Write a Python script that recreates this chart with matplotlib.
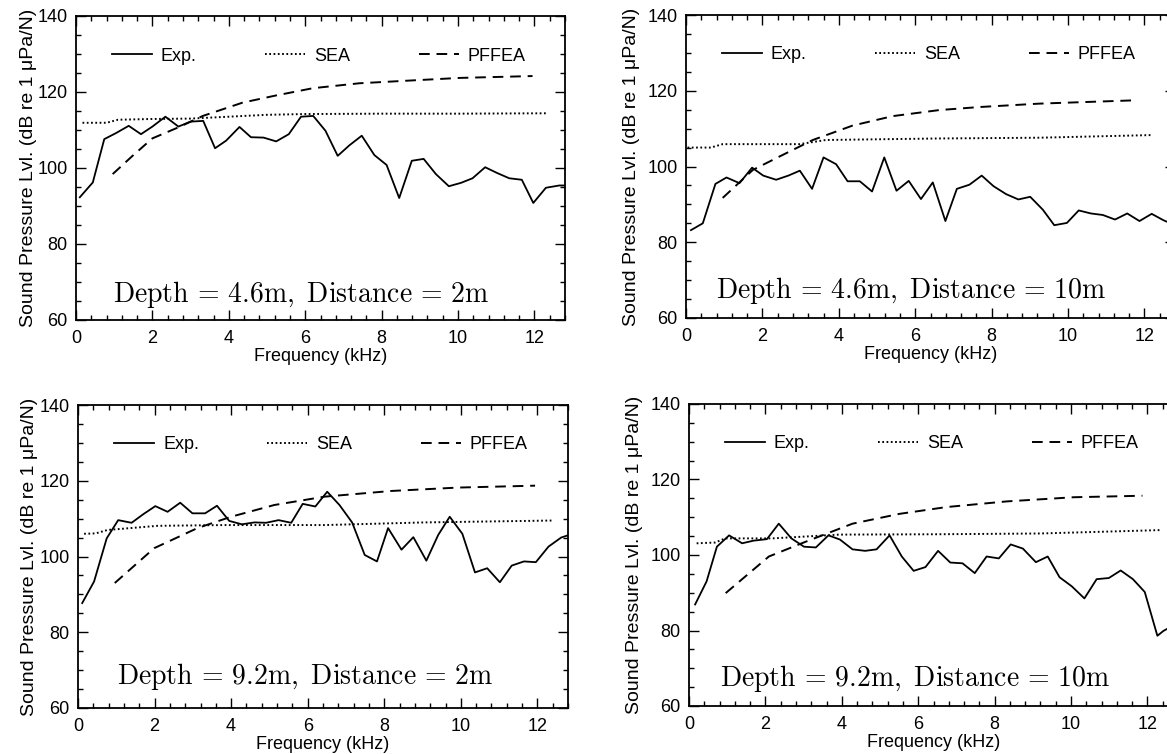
import matplotlib.pyplot as plt
from matplotlib.ticker import MultipleLocator

plt.rcParams['font.family'] = ['Liberation Sans', 'DejaVu Sans']
plt.rcParams['mathtext.fontset'] = 'cm'

# --- Depth 4.6 m, Distance 2 m ---
exp_f_a = [0.10, 0.44, 0.74, 1.05, 1.38, 1.70, 2.00, 2.34, 2.68, 3.00, 3.33, 3.64, 3.93,
           4.28, 4.58, 4.91, 5.24, 5.57, 5.89, 6.21, 6.53, 6.85, 7.16, 7.48, 7.81, 8.13,
           8.46, 8.79, 9.10, 9.42, 9.76, 10.08, 10.38, 10.71, 11.02, 11.34, 11.67, 11.97,
           12.30, 12.65, 12.80]
exp_a = [92.3, 96.2, 107.6, 109.2, 111.1, 108.9, 110.9, 113.5, 110.9, 112.2, 112.4, 105.2, 107.2,
         110.8, 108.1, 108.0, 107.0, 108.9, 113.5, 113.7, 109.8, 103.2, 106.0, 108.5, 103.4, 100.8,
         92.1, 101.9, 102.4, 98.4, 95.2, 96.1, 97.3, 100.2, 98.7, 97.3, 96.9, 90.8,
         94.8, 95.4, 95.4]
sea_f_a = [0.17, 0.80, 1.10, 2.0, 3.0, 4.0, 5.0, 6.0, 8.0, 10.0, 12.35]
sea_a = [111.9, 111.9, 112.7, 112.9, 113.0, 113.5, 114.0, 114.2, 114.3, 114.3, 114.4]
pf_f_a = [0.96, 1.48, 2.00, 2.68, 3.32, 4.36, 5.24, 6.20, 7.42, 8.90, 10.03, 11.95]
pf_a = [98.4, 103.2, 107.8, 110.7, 113.7, 117.2, 119.1, 121.0, 122.3, 123.1, 123.7, 124.2]

# --- Depth 4.6 m, Distance 10 m ---
exp_f_b = [0.13, 0.44, 0.77, 1.06, 1.40, 1.73, 2.02, 2.36, 2.68, 2.98, 3.30, 3.60, 3.93,
           4.23, 4.55, 4.87, 5.19, 5.51, 5.83, 6.15, 6.46, 6.79, 7.09, 7.42, 7.74, 8.05,
           8.38, 8.70, 9.01, 9.34, 9.64, 9.97, 10.28, 10.60, 10.91, 11.23, 11.55, 11.87,
           12.19, 12.50, 12.80]
exp_b = [83.2, 85.0, 95.4, 97.1, 95.6, 99.7, 97.6, 96.5, 97.6, 98.9, 94.1, 102.4, 100.6,
         96.1, 96.1, 93.4, 102.4, 93.6, 96.2, 91.4, 95.8, 85.6, 94.1, 95.2, 97.6, 94.8,
         92.7, 91.3, 92.0, 88.6, 84.5, 85.1, 88.4, 87.6, 87.2, 86.0, 87.6, 85.6,
         87.5, 85.8, 84.5]
sea_f_b = [0.04, 0.65, 0.96, 2.97, 3.66, 6.63, 9.25, 12.20]
sea_b = [105.0, 105.0, 105.9, 105.9, 107.0, 107.4, 107.6, 108.3]
pf_f_b = [0.96, 1.75, 2.44, 3.32, 4.36, 5.41, 6.63, 7.68, 9.25, 11.82]
pf_b = [91.7, 99.1, 102.6, 107.0, 110.8, 113.3, 114.9, 115.7, 116.6, 117.5]

# --- Depth 9.2 m, Distance 2 m ---
exp_f_c = [0.11, 0.42, 0.75, 1.05, 1.40, 1.71, 2.02, 2.34, 2.67, 2.99, 3.32, 3.63, 3.95,
           4.28, 4.61, 4.91, 5.24, 5.57, 5.87, 6.20, 6.51, 6.83, 7.16, 7.49, 7.81, 8.10,
           8.45, 8.76, 9.10, 9.41, 9.71, 10.04, 10.37, 10.69, 11.02, 11.33, 11.65, 11.96,
           12.29, 12.62, 12.80]
exp_c = [87.7, 93.4, 104.8, 109.6, 108.9, 111.2, 113.3, 111.8, 114.2, 111.4, 111.4, 113.4, 109.4,
         108.5, 109.0, 108.9, 109.6, 108.9, 113.9, 113.2, 117.1, 113.6, 109.0, 100.4, 98.7, 107.5,
         101.8, 105.1, 98.9, 105.7, 110.5, 106.0, 95.8, 96.9, 93.2, 97.6, 98.7, 98.5,
         102.6, 105.0, 105.6]
sea_f_c = [0.16, 0.46, 0.77, 2.08, 3.82, 6.44, 9.06, 12.42]
sea_c = [106.0, 106.1, 107.0, 108.1, 108.3, 108.3, 109.0, 109.5]
pf_f_c = [0.96, 1.99, 3.12, 4.00, 5.13, 6.44, 8.18, 9.93, 11.94]
pf_c = [93.0, 102.2, 107.5, 110.5, 113.6, 115.8, 117.3, 118.2, 118.7]

# --- Depth 9.2 m, Distance 10 m ---
exp_f_d = [0.16, 0.46, 0.73, 1.05, 1.39, 1.69, 2.04, 2.35, 2.68, 3.01, 3.32, 3.65, 3.95,
           4.28, 4.61, 4.91, 5.25, 5.57, 5.88, 6.19, 6.52, 6.84, 7.16, 7.48, 7.79, 8.11,
           8.42, 8.74, 9.08, 9.39, 9.70, 10.02, 10.35, 10.67, 10.99, 11.30, 11.62, 11.93,
           12.26, 12.42, 12.80]
exp_d = [86.9, 93.0, 102.2, 105.2, 103.1, 103.8, 104.2, 108.3, 104.4, 102.2, 102.0, 105.2, 104.1,
         101.5, 101.1, 101.5, 105.2, 99.6, 95.8, 96.8, 101.1, 98.0, 97.8, 95.2, 99.6, 99.1,
         102.8, 101.7, 98.1, 99.6, 94.1, 91.7, 88.5, 93.6, 93.9, 95.9, 93.6, 90.2,
         78.6, 79.9, 82.0]
sea_f_d = [0.20, 0.68, 0.95, 2.18, 3.93, 6.56, 9.19, 12.35]
sea_d = [103.1, 103.3, 104.4, 104.4, 105.4, 105.5, 105.7, 106.6]
pf_f_d = [0.96, 2.09, 3.05, 4.28, 5.51, 6.74, 8.32, 10.07, 11.87]
pf_d = [89.9, 99.6, 103.5, 108.3, 110.9, 112.7, 114.2, 115.3, 115.7]

titles = [r'$\mathrm{Depth}\,=\,4.6\mathrm{m},\ \mathrm{Distance}\,=\,2\mathrm{m}$',
          r'$\mathrm{Depth}\,=\,4.6\mathrm{m},\ \mathrm{Distance}\,=\,10\mathrm{m}$',
          r'$\mathrm{Depth}\,=\,9.2\mathrm{m},\ \mathrm{Distance}\,=\,2\mathrm{m}$',
          r'$\mathrm{Depth}\,=\,9.2\mathrm{m},\ \mathrm{Distance}\,=\,10\mathrm{m}$']

panels = [
    (exp_f_a, exp_a, sea_f_a, sea_a, pf_f_a, pf_a),
    (exp_f_b, exp_b, sea_f_b, sea_b, pf_f_b, pf_b),
    (exp_f_c, exp_c, sea_f_c, sea_c, pf_f_c, pf_c),
    (exp_f_d, exp_d, sea_f_d, sea_d, pf_f_d, pf_d),
]

W, H = 1167, 754
# axes boxes in pixels: left, top, right, bottom
boxes = [(76, 16, 565, 320), (686, 15, 1175, 318),
         (78, 405, 568, 708), (689, 404, 1178, 706)]
text_pos = [(0.076, 0.059), (0.061, 0.066), (0.080, 0.078), (0.063, 0.066)]
ylabel_x = [-0.080, -0.094, -0.082, -0.094]

fig = plt.figure(figsize=(W / 100, H / 100), dpi=100)
fig.patch.set_facecolor('white')

for i, (ef, ev, sf, sv, pf, pv) in enumerate(panels):
    l, t, r, b = boxes[i]
    ax = fig.add_axes([l / W, 1 - b / H, (r - l) / W, (b - t) / H])
    ax.plot(ef, ev, color='black', lw=1.3, label='Exp.')
    ax.plot(sf, sv, color='black', lw=1.4, linestyle=(0, (0.9, 1.3)), label='SEA')
    ax.plot(pf, pv, color='black', lw=1.4, linestyle=(0, (5.5, 3.5)), label='PFFEA')

    ax.set_xlim(0, 12.8)
    ax.set_ylim(60, 140)
    ax.xaxis.set_major_locator(MultipleLocator(2))
    ax.xaxis.set_minor_locator(MultipleLocator(0.4))
    ax.yaxis.set_major_locator(MultipleLocator(20))
    ax.yaxis.set_minor_locator(MultipleLocator(5))
    ax.tick_params(which='both', direction='in', top=True, right=True,
                   labelsize=13, width=1.0, color='black')
    ax.tick_params(axis='x', pad=7)
    ax.tick_params(axis='y', pad=6)
    ax.tick_params(which='major', length=7)
    ax.tick_params(which='minor', length=3.5)
    for s in ax.spines.values():
        s.set_linewidth(1.3)

    ax.set_xlabel('Frequency (kHz)', fontsize=13, labelpad=1)
    ax.set_ylabel('Sound Pressure Lvl. (dB re 1 \u03bcPa/N)', fontsize=14)
    ax.yaxis.set_label_coords(ylabel_x[i], 0.5)

    ax.legend(ncol=3, loc='center left', bbox_to_anchor=(0.074, 0.868),
              frameon=False, fontsize=13, borderpad=0, borderaxespad=0,
              handlelength=2.2, handletextpad=0.5, columnspacing=3.8)

    tx, ty = text_pos[i]
    ax.text(tx, ty, titles[i], transform=ax.transAxes, fontsize=20,
            ha='left', va='baseline')

fig.savefig('out.png', dpi=100)
